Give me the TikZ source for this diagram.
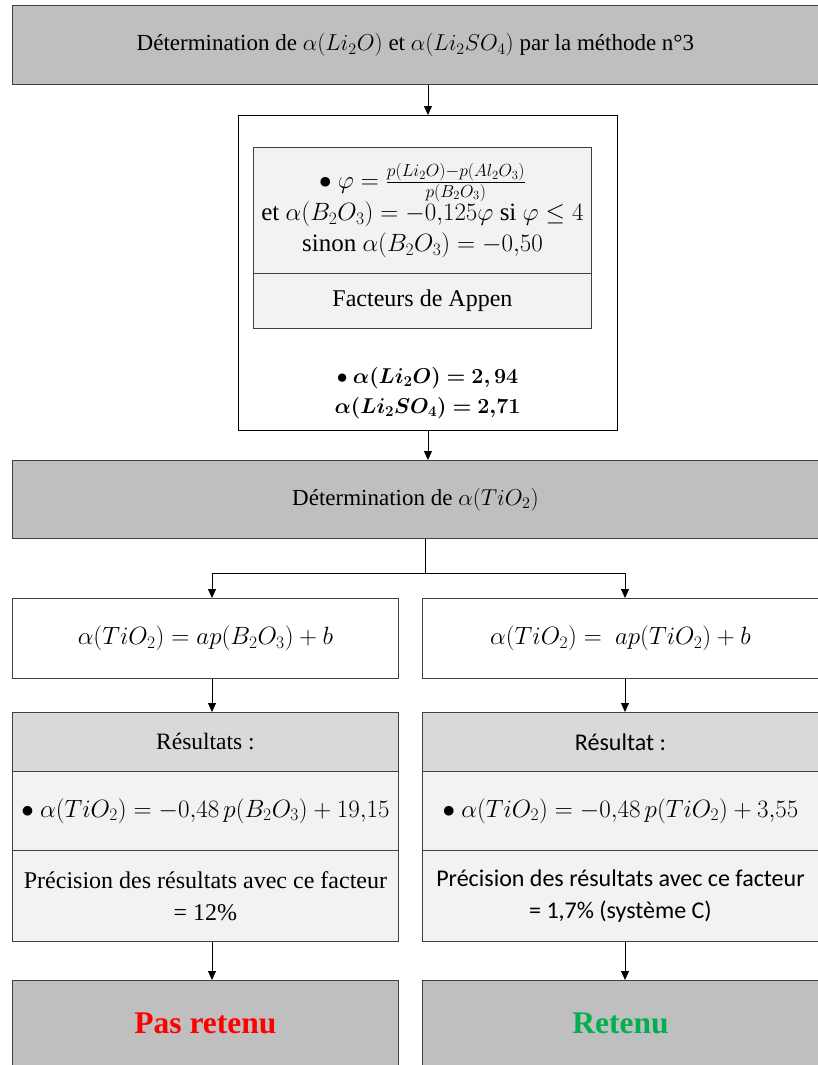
\RequirePackage{fix-cm}
\documentclass[tikz,border=0pt]{standalone}
\usepackage{amsmath,bm}
\usepackage{fontspec}
\setmainfont{Liberation Serif}
\newfontfamily\calib{Carlito}
\usetikzlibrary{arrows.meta}
\definecolor{gdark}{HTML}{BFBFBF}
\definecolor{gmid}{HTML}{D9D9D9}
\definecolor{glight}{HTML}{F2F2F2}
\definecolor{okgreen}{HTML}{00B050}
\newcommand\myfs{\fontsize{23.5}{31}\selectfont}
\newcommand\eqfs{\fontsize{25}{31}\selectfont}
\begin{document}
\begin{tikzpicture}[x=1pt,y=-1pt,
  basebox/.style={draw=black!75, line width=0.9pt, anchor=north west, inner sep=0pt, align=center, font=\myfs},
  darkbox/.style={basebox, fill=gdark},
  midbox/.style={basebox, fill=gmid},
  lightbox/.style={basebox, fill=glight},
  whitebox/.style={basebox, fill=white},
  arr/.style={-{Triangle[length=9pt,width=8pt]}, line width=0.8pt},
  ln/.style={line width=0.8pt}]
\useasboundingbox (0,0) rectangle (818,1065);
\clip (0,0) rectangle (818,1065);
\fill[white] (0,0) rectangle (818,1065);

% top
\node[darkbox, minimum width=806pt, minimum height=79pt, font=\fontsize{23}{30}\selectfont] (top) at (12,5)
  {D\'etermination de $\alpha(Li_2O)$ et $\alpha(Li_2SO_4)$ par la m\'ethode n\textdegree3};

% big box
\node[whitebox, draw=black, minimum width=379pt, minimum height=315pt] (big) at (238,115) {};
\node[lightbox, minimum width=338pt, minimum height=126pt, font=\fontsize{25}{31}\selectfont] (in1) at (253,147)
  {$\bullet\ \varphi=\tfrac{p(Li_2O)-p(Al_2O_3)}{p(B_2O_3)}$\\[-1pt]
   et $\alpha(B_2O_3)=-0{,}125\varphi$ si $\varphi\leq4$\\
   sinon $\alpha(B_2O_3)=-0{,}50$};
\node[lightbox, minimum width=338pt, minimum height=55pt, font=\fontsize{24}{31}\selectfont] (in2) at (253,273) {Facteurs de Appen};
\node[align=center, font=\fontsize{21.5}{30}\selectfont, inner sep=0pt] (vals) at (427.5,393)
  {$\bullet\ \bm{\alpha(Li_2O)=2,94}$\\ $\bm{\alpha(Li_2SO_4)=2{,}71}$};

\draw[arr] (big.north |- top.south) -- (big.north);

% second gray box
\node[darkbox, minimum width=806pt, minimum height=78pt, font=\fontsize{23}{30}\selectfont] (det2) at (12,460)
  {D\'etermination de $\alpha(TiO_2)$};
\draw[arr] (big.south) -- (big.south |- det2.north);

% branch
\coordinate (br) at (425,573);
\coordinate (lx) at (212,573);
\coordinate (rx) at (625,573);

\node[whitebox, minimum width=386pt, minimum height=80pt, font=\eqfs] (lf) at (12,598)
  {$\alpha(TiO_2)=ap(B_2O_3)+b$};
\node[whitebox, minimum width=396pt, minimum height=80pt, font=\eqfs] (rf) at (422,598)
  {$\alpha(TiO_2)=\ ap(TiO_2)+b$};

\draw[ln] (det2.south -| br) -- (br);
\draw[ln] (lx) -- (rx);
\draw[arr] (lx) -- (lx |- lf.north);
\draw[arr] (rx) -- (rx |- rf.north);

% left results
\node[midbox, minimum width=386pt, minimum height=59pt] (lr1) at (12,712) {R\'esultats :};
\node[lightbox, minimum width=386pt, minimum height=79pt, font=\eqfs] (lr2) at (12,771)
  {$\bullet\ \alpha(TiO_2)=-0{,}48\,p(B_2O_3)+19{,}15$};
\node[lightbox, minimum width=386pt, minimum height=91pt, font=\fontsize{24}{32}\selectfont] (lr3) at (12,850)
  {Pr\'ecision des r\'esultats avec ce facteur\\ = 12\%};

% right results
\node[midbox, minimum width=396pt, minimum height=59pt, font=\calib\fontsize{24}{31}\selectfont] (rr1) at (422,712) {R\'esultat :};
\node[lightbox, minimum width=396pt, minimum height=79pt, font=\eqfs] (rr2) at (422,771)
  {$\bullet\ \alpha(TiO_2)=-0{,}48\,p(TiO_2)+3{,}55$};
\node[lightbox, minimum width=396pt, minimum height=91pt, font=\calib\fontsize{24}{32}\selectfont] (rr3) at (422,850)
  {Pr\'ecision des r\'esultats avec ce facteur\\ = 1,7\% (syst\`eme C)};

\draw[arr] (lf.south -| lx) -- (lr1.north -| lx);
\draw[arr] (rf.south -| rx) -- (rr1.north -| rx);

% bottom
\node[darkbox, minimum width=386pt, minimum height=86pt, font=\fontsize{31.5}{34}\selectfont\bfseries, text=red] (lb) at (12,980) {Pas retenu};
\node[darkbox, minimum width=396pt, minimum height=86pt, font=\fontsize{31.5}{34}\selectfont\bfseries, text=okgreen] (rb) at (422,980) {Retenu};

\draw[arr] (lr3.south -| lx) -- (lb.north -| lx);
\draw[arr] (rr3.south -| rx) -- (rb.north -| rx);
\end{tikzpicture}
\end{document}
